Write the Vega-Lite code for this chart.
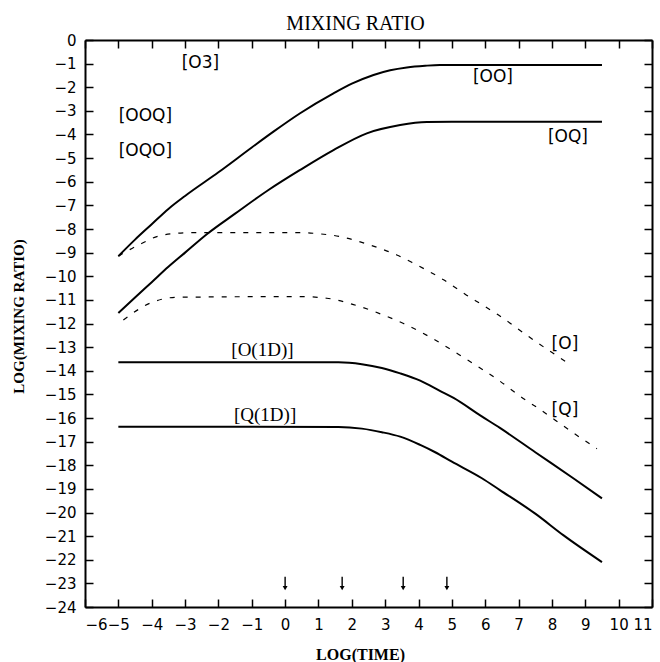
{
  "$schema": "https://vega.github.io/schema/vega-lite/v6.json",
  "width": 567,
  "height": 567,
  "autosize": {"type": "none"},
  "padding": {"left": 85, "top": 40, "right": 8, "bottom": 55},
  "background": "white",
  "title": {
    "text": "MIXING RATIO",
    "font": "Liberation Serif",
    "fontSize": 20,
    "fontWeight": "normal",
    "color": "black",
    "anchor": "middle",
    "baseline": "alphabetic",
    "dx": -13,
    "offset": -17
  },
  "config": {
    "view": {"stroke": null},
    "axis": {
      "grid": false,
      "domainColor": "black",
      "domainWidth": 2,
      "tickColor": "black",
      "tickWidth": 1.5,
      "tickSize": -8,
      "labelColor": "black",
      "labelFont": "DejaVu Sans",
      "labelFontSize": 15,
      "titleColor": "black",
      "titleFont": "Liberation Serif",
      "titleFontWeight": "bold",
      "titleFontSize": 15
    }
  },
  "datasets": {
    "solid": [
      {"s": "OO", "x": -5, "y": -9.15}, {"s": "OO", "x": -4.5, "y": -8.45}, {"s": "OO", "x": -4, "y": -7.8},
      {"s": "OO", "x": -3.5, "y": -7.15}, {"s": "OO", "x": -3, "y": -6.6}, {"s": "OO", "x": -2, "y": -5.6},
      {"s": "OO", "x": -1, "y": -4.55}, {"s": "OO", "x": -0.35, "y": -3.88}, {"s": "OO", "x": 0.45, "y": -3.1},
      {"s": "OO", "x": 1.45, "y": -2.26}, {"s": "OO", "x": 2.0, "y": -1.85}, {"s": "OO", "x": 2.65, "y": -1.48},
      {"s": "OO", "x": 3.15, "y": -1.28}, {"s": "OO", "x": 3.65, "y": -1.16}, {"s": "OO", "x": 4.2, "y": -1.09},
      {"s": "OO", "x": 4.64, "y": -1.06}, {"s": "OO", "x": 9.5, "y": -1.06},
      {"s": "OQ", "x": -5, "y": -11.56}, {"s": "OQ", "x": -4.5, "y": -10.9}, {"s": "OQ", "x": -4, "y": -10.25},
      {"s": "OQ", "x": -3.5, "y": -9.6}, {"s": "OQ", "x": -3, "y": -9.0}, {"s": "OQ", "x": -2.33, "y": -8.2},
      {"s": "OQ", "x": -1.5, "y": -7.35}, {"s": "OQ", "x": -0.5, "y": -6.35}, {"s": "OQ", "x": 0.45, "y": -5.5},
      {"s": "OQ", "x": 1.45, "y": -4.66}, {"s": "OQ", "x": 2.45, "y": -3.95}, {"s": "OQ", "x": 3.45, "y": -3.6},
      {"s": "OQ", "x": 4.25, "y": -3.47}, {"s": "OQ", "x": 5, "y": -3.46}, {"s": "OQ", "x": 9.5, "y": -3.46},
      {"s": "O1D", "x": -5, "y": -13.64}, {"s": "O1D", "x": 1.6, "y": -13.64}, {"s": "O1D", "x": 2.3, "y": -13.72},
      {"s": "O1D", "x": 2.9, "y": -13.88}, {"s": "O1D", "x": 3.45, "y": -14.11}, {"s": "O1D", "x": 4.05, "y": -14.42},
      {"s": "O1D", "x": 4.64, "y": -14.85}, {"s": "O1D", "x": 5.05, "y": -15.15}, {"s": "O1D", "x": 5.86, "y": -15.9},
      {"s": "O1D", "x": 6.44, "y": -16.42}, {"s": "O1D", "x": 7.5, "y": -17.45}, {"s": "O1D", "x": 8.64, "y": -18.55},
      {"s": "O1D", "x": 9.5, "y": -19.4},
      {"s": "Q1D", "x": -5, "y": -16.37}, {"s": "Q1D", "x": 1.6, "y": -16.38}, {"s": "Q1D", "x": 2.3, "y": -16.45},
      {"s": "Q1D", "x": 2.9, "y": -16.6}, {"s": "Q1D", "x": 3.45, "y": -16.79}, {"s": "Q1D", "x": 4.05, "y": -17.14},
      {"s": "Q1D", "x": 4.5, "y": -17.45}, {"s": "Q1D", "x": 5.0, "y": -17.85}, {"s": "Q1D", "x": 5.9, "y": -18.55},
      {"s": "Q1D", "x": 6.44, "y": -19.05}, {"s": "Q1D", "x": 7.5, "y": -20.05}, {"s": "Q1D", "x": 8.35, "y": -20.97},
      {"s": "Q1D", "x": 9.5, "y": -22.1}
    ],
    "dashed": [
      {"s": "O", "x": -5, "y": -9.15}, {"s": "O", "x": -4.4, "y": -8.68}, {"s": "O", "x": -3.65, "y": -8.25},
      {"s": "O", "x": -2.75, "y": -8.15}, {"s": "O", "x": 0.45, "y": -8.15}, {"s": "O", "x": 1.0, "y": -8.2},
      {"s": "O", "x": 1.65, "y": -8.32}, {"s": "O", "x": 2.55, "y": -8.68}, {"s": "O", "x": 3.35, "y": -9.1},
      {"s": "O", "x": 3.85, "y": -9.45}, {"s": "O", "x": 4.75, "y": -10.15}, {"s": "O", "x": 5.44, "y": -10.8},
      {"s": "O", "x": 5.9, "y": -11.2}, {"s": "O", "x": 6.35, "y": -11.6}, {"s": "O", "x": 7.24, "y": -12.49},
      {"s": "O", "x": 7.49, "y": -12.74}, {"s": "O", "x": 8.4, "y": -13.6},
      {"s": "Q", "x": -4.85, "y": -11.85}, {"s": "Q", "x": -4.05, "y": -11.14}, {"s": "Q", "x": -3.25, "y": -10.89},
      {"s": "Q", "x": 0.45, "y": -10.86}, {"s": "Q", "x": 1.25, "y": -10.93}, {"s": "Q", "x": 2.05, "y": -11.2},
      {"s": "Q", "x": 3.05, "y": -11.7}, {"s": "Q", "x": 3.55, "y": -12.0}, {"s": "Q", "x": 4.5, "y": -12.7},
      {"s": "Q", "x": 5.34, "y": -13.43}, {"s": "Q", "x": 6.39, "y": -14.39}, {"s": "Q", "x": 7.14, "y": -15.17},
      {"s": "Q", "x": 7.59, "y": -15.59}, {"s": "Q", "x": 8.09, "y": -16.08}, {"s": "Q", "x": 8.59, "y": -16.58},
      {"s": "Q", "x": 9.35, "y": -17.3}
    ],
    "sansLabels": [
      {"x": -2.54, "y": -0.99, "t": "[O3]"},
      {"x": -4.19, "y": -3.2, "t": "[OOQ]"},
      {"x": -4.19, "y": -4.68, "t": "[OQO]"},
      {"x": 6.23, "y": -1.57, "t": "[OO]"},
      {"x": 8.48, "y": -4.1, "t": "[OQ]"},
      {"x": 8.39, "y": -12.85, "t": "[O]"},
      {"x": 8.39, "y": -15.66, "t": "[Q]"}
    ],
    "serifLabels": [
      {"x": -0.68, "y": -13.14, "t": "[O(1D)]"},
      {"x": -0.6, "y": -15.87, "t": "[Q(1D)]"}
    ],
    "arrows": [
      {"x": 0, "y1": -22.72, "y2": -23.2},
      {"x": 1.71, "y1": -22.72, "y2": -23.2},
      {"x": 3.54, "y1": -22.72, "y2": -23.2},
      {"x": 4.85, "y1": -22.72, "y2": -23.2}
    ]
  },
  "resolve": {"axis": {"x": "independent", "y": "independent"}},
  "layer": [
    {
      "data": {"name": "solid"},
      "mark": {"type": "line", "color": "black", "strokeWidth": 2, "interpolate": "monotone"},
      "encoding": {
        "x": {"field": "x", "type": "quantitative",
          "scale": {"domain": [-6, 11], "nice": false, "zero": false},
          "axis": {"orient": "bottom", "values": [-6,-5,-4,-3,-2,-1,0,1,2,3,4,5,6,7,8,9,10,11],
            "title": "LOG(TIME)", "labelPadding": 18, "titleX": 275, "titleY": 52, "titleBaseline": "alphabetic", "titleFontSize": 16}},
        "y": {"field": "y", "type": "quantitative",
          "scale": {"domain": [-24, 0], "nice": false, "zero": false},
          "axis": {"orient": "left", "values": [-24,-23,-22,-21,-20,-19,-18,-17,-16,-15,-14,-13,-12,-11,-10,-9,-8,-7,-6,-5,-4,-3,-2,-1,0],
            "title": "LOG(MIXING RATIO)", "labelPadding": 17, "titleX": -67, "titleY": 276, "titleBaseline": "middle", "titleAlign": "center", "titleAngle": -90}},
        "detail": {"field": "s"}
      }
    },
    {
      "data": {"name": "dashed"},
      "mark": {"type": "line", "color": "black", "strokeWidth": 1.2, "strokeDash": [5, 8], "interpolate": "monotone"},
      "encoding": {
        "x": {"field": "x", "type": "quantitative",
          "scale": {"domain": [-6, 11], "nice": false, "zero": false},
          "axis": {"orient": "top", "values": [-6,-5,-4,-3,-2,-1,0,1,2,3,4,5,6,7,8,9,10,11], "labels": false, "title": null}},
        "y": {"field": "y", "type": "quantitative",
          "scale": {"domain": [-24, 0], "nice": false, "zero": false},
          "axis": {"orient": "right", "values": [-24,-23,-22,-21,-20,-19,-18,-17,-16,-15,-14,-13,-12,-11,-10,-9,-8,-7,-6,-5,-4,-3,-2,-1,0], "labels": false, "title": null}},
        "detail": {"field": "s"}
      }
    },
    {
      "data": {"name": "sansLabels"},
      "mark": {"type": "text", "font": "DejaVu Sans", "fontSize": 17, "color": "black", "align": "center", "baseline": "middle"},
      "encoding": {
        "x": {"field": "x", "type": "quantitative", "scale": {"domain": [-6, 11], "nice": false, "zero": false}, "axis": null},
        "y": {"field": "y", "type": "quantitative", "scale": {"domain": [-24, 0], "nice": false, "zero": false}, "axis": null},
        "text": {"field": "t"}
      }
    },
    {
      "data": {"name": "serifLabels"},
      "mark": {"type": "text", "font": "Liberation Serif", "fontSize": 19, "color": "black", "align": "center", "baseline": "middle"},
      "encoding": {
        "x": {"field": "x", "type": "quantitative", "scale": {"domain": [-6, 11], "nice": false, "zero": false}, "axis": null},
        "y": {"field": "y", "type": "quantitative", "scale": {"domain": [-24, 0], "nice": false, "zero": false}, "axis": null},
        "text": {"field": "t"}
      }
    },
    {
      "data": {"name": "arrows"},
      "mark": {"type": "rule", "color": "black", "strokeWidth": 1.4},
      "encoding": {
        "x": {"field": "x", "type": "quantitative", "scale": {"domain": [-6, 11], "nice": false, "zero": false}, "axis": null},
        "y": {"field": "y1", "type": "quantitative", "scale": {"domain": [-24, 0], "nice": false, "zero": false}, "axis": null},
        "y2": {"field": "y2"}
      }
    },
    {
      "data": {"name": "arrows"},
      "mark": {"type": "point", "shape": "triangle-down", "filled": true, "color": "black", "size": 24, "opacity": 1},
      "encoding": {
        "x": {"field": "x", "type": "quantitative", "scale": {"domain": [-6, 11], "nice": false, "zero": false}, "axis": null},
        "y": {"field": "y2", "type": "quantitative", "scale": {"domain": [-24, 0], "nice": false, "zero": false}, "axis": null}
      }
    }
  ]
}
